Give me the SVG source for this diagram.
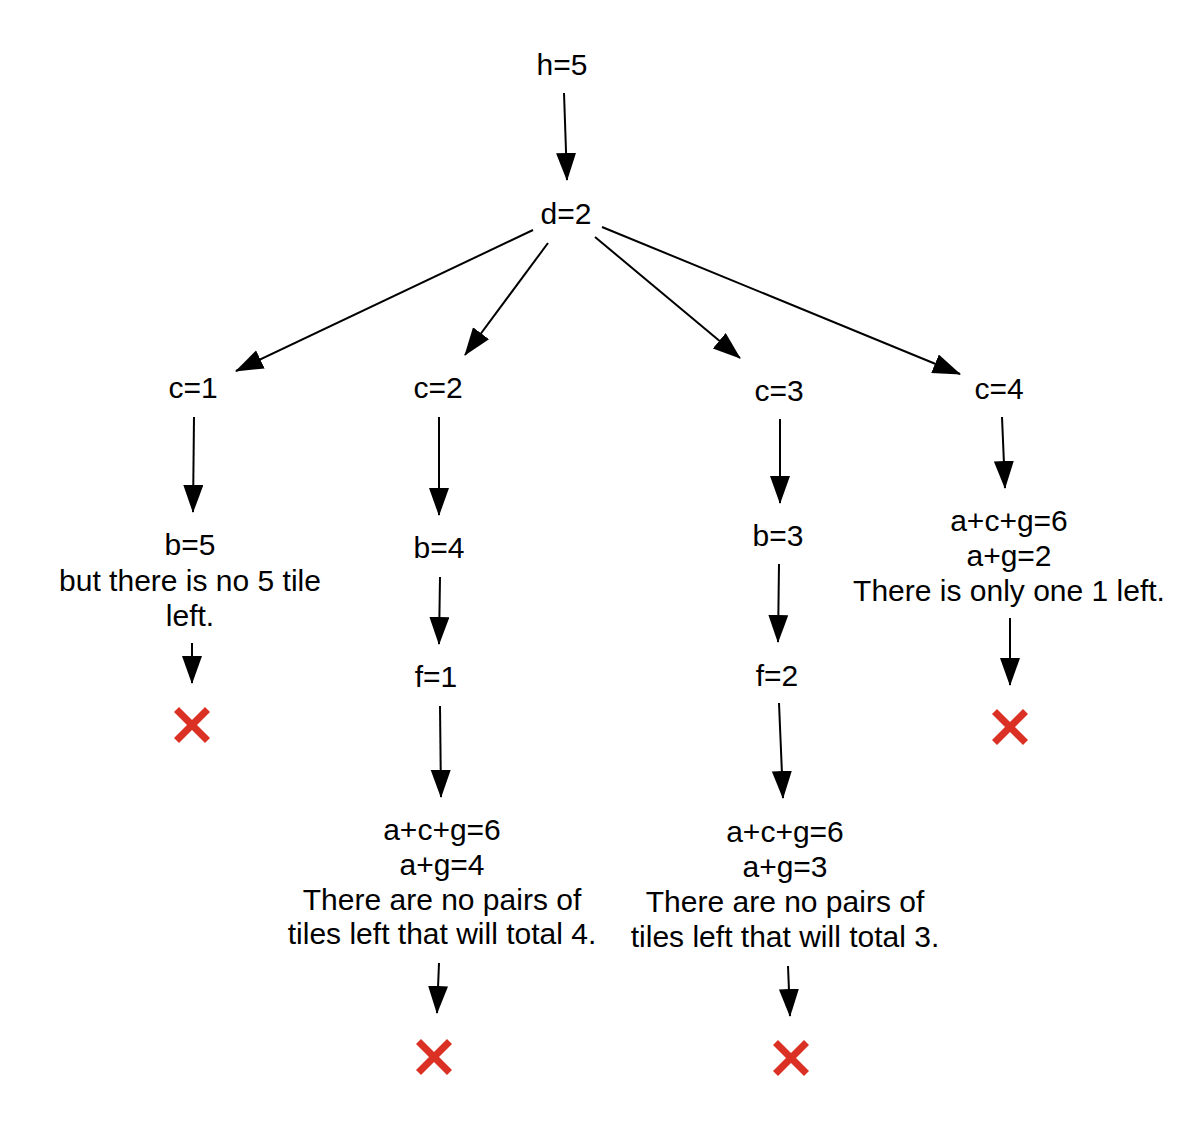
<svg xmlns="http://www.w3.org/2000/svg" width="1200" height="1135" viewBox="0 0 1200 1135">
<style>
  text { font-family: "Liberation Sans", Arial, Helvetica, sans-serif; font-size: 30px; fill: #000; text-anchor: middle; }
  .edge { stroke: #000; stroke-width: 2; fill: none; marker-end: url(#arrow); }
  .cross { stroke: #DB3125; stroke-width: 7; stroke-linecap: butt; }
</style>
<defs>
  <marker id="arrow" markerUnits="userSpaceOnUse" markerWidth="30" markerHeight="22" refX="27" refY="10" orient="auto" viewBox="0 0 30 22">
    <path d="M0,0 L28,10 L0,20 Z" fill="#000"/>
  </marker>
  <g id="x">
    <line class="cross" x1="-15.5" y1="-15.5" x2="15.5" y2="15.5"/>
    <line class="cross" x1="-15.5" y1="15.5" x2="15.5" y2="-15.5"/>
  </g>
</defs>
<rect width="1200" height="1135" fill="#fff"/>

<g id="connectors">
  <line class="edge" x1="564" y1="93" x2="567" y2="180"/>
  <line class="edge" x1="533" y1="230" x2="236" y2="371"/>
  <line class="edge" x1="548" y1="243" x2="465" y2="355"/>
  <line class="edge" x1="595" y1="237" x2="740" y2="358"/>
  <line class="edge" x1="602" y1="227" x2="960" y2="374"/>
  <line class="edge" x1="194" y1="417" x2="193" y2="512"/>
  <line class="edge" x1="192" y1="643" x2="192" y2="683"/>
  <line class="edge" x1="439" y1="417" x2="439" y2="515"/>
  <line class="edge" x1="440" y1="577" x2="439" y2="644"/>
  <line class="edge" x1="440" y1="706" x2="441" y2="797"/>
  <line class="edge" x1="439" y1="963" x2="437" y2="1013"/>
  <line class="edge" x1="780" y1="419" x2="780" y2="503"/>
  <line class="edge" x1="779" y1="564" x2="778" y2="642"/>
  <line class="edge" x1="779" y1="703" x2="783" y2="798"/>
  <line class="edge" x1="788" y1="966" x2="790" y2="1016"/>
  <line class="edge" x1="1002" y1="417" x2="1005" y2="488"/>
  <line class="edge" x1="1010" y1="618" x2="1010" y2="685"/>
</g>

<g id="node-h5"><text x="562" y="75">h=5</text></g>
<g id="node-d2"><text x="566" y="224">d=2</text></g>
<g id="node-c1"><text x="193" y="398">c=1</text></g>
<g id="node-c2"><text x="438" y="398">c=2</text></g>
<g id="node-c3"><text x="779" y="401">c=3</text></g>
<g id="node-c4"><text x="999" y="399">c=4</text></g>

<g id="node-b5">
  <text x="190" y="555">b=5</text>
  <text x="190" y="591">but there is no 5 tile</text>
  <text x="190" y="626">left.</text>
</g>
<g id="node-x1"><use href="#x" x="192" y="725"/></g>

<g id="node-b4"><text x="439" y="558">b=4</text></g>
<g id="node-f1"><text x="436" y="687">f=1</text></g>
<g id="node-sum4">
  <text x="442" y="840">a+c+g=6</text>
  <text x="442" y="875">a+g=4</text>
  <text x="442" y="910">There are no pairs of</text>
  <text x="442" y="944">tiles left that will total 4.</text>
</g>
<g id="node-x2"><use href="#x" x="434" y="1057"/></g>

<g id="node-b3"><text x="778" y="546">b=3</text></g>
<g id="node-f2"><text x="777" y="686">f=2</text></g>
<g id="node-sum3">
  <text x="785" y="842">a+c+g=6</text>
  <text x="785" y="877">a+g=3</text>
  <text x="785" y="912">There are no pairs of</text>
  <text x="785" y="947">tiles left that will total 3.</text>
</g>
<g id="node-x3"><use href="#x" x="791" y="1058"/></g>

<g id="node-sum2">
  <text x="1009" y="531">a+c+g=6</text>
  <text x="1009" y="566">a+g=2</text>
  <text x="1009" y="601">There is only one 1 left.</text>
</g>
<g id="node-x4"><use href="#x" x="1010" y="727"/></g>
</svg>
